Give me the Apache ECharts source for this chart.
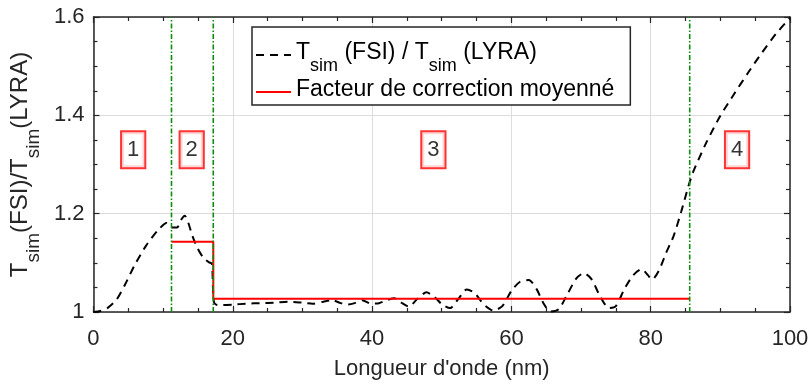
<!DOCTYPE html>
<html><head><meta charset="utf-8">
<script src="https://cdn.jsdelivr.net/npm/echarts@6/dist/echarts.min.js"></script>
<style>html,body{margin:0;padding:0;background:#fff}#c{width:812px;height:386px}</style>
</head><body><div id="c"></div>
<script>
// ---- data ----
const ratioX = [0, 1, 2, 3.3, 4.5, 5.9, 7.6, 9.3, 10.5, 11.3, 12.0, 12.6, 13.1, 13.6, 14.2, 15.0, 15.8, 16.6, 17.0, 17.15, 17.3, 17.6,
  18.5, 20, 22, 24, 26, 28, 30, 31.5, 33, 34.3, 35.5, 36.5, 37.5, 38.6, 39.8, 41, 42.3, 43.2, 44.2, 45.3, 46.5, 47.8, 49, 50, 51.2,
  52.4, 53.6, 54.7, 56, 57.4, 58.7, 60, 61.2, 62.5, 63.6, 64.6, 65.6, 66.8, 68, 69.3, 70.4, 71.5, 72.7, 74, 75, 76.2, 77.5, 78.7,
  79.6, 80.2, 81.2, 82.2, 83.3, 84.4, 85.4, 86.1, 88, 90, 92, 94, 96, 98, 100];
const ratioY = [1.0, 1.002, 1.008, 1.025, 1.055, 1.095, 1.136, 1.167, 1.181, 1.172, 1.172, 1.188, 1.196, 1.182, 1.155, 1.128, 1.11, 1.101, 1.098, 1.05, 1.02, 1.015,
  1.014, 1.015, 1.017, 1.018, 1.019, 1.021, 1.019, 1.017, 1.021, 1.024, 1.018, 1.015, 1.018, 1.024, 1.017, 1.018, 1.025, 1.028, 1.019, 1.011, 1.027, 1.04, 1.03, 1.016, 1.008,
  1.027, 1.046, 1.039, 1.016, 1.003, 1.012, 1.043, 1.061, 1.065, 1.047, 1.018, 1.001, 1.006, 1.035, 1.068, 1.079, 1.067, 1.033, 1.008, 1.012, 1.046, 1.075, 1.087,
  1.075, 1.066, 1.085, 1.12, 1.155, 1.205, 1.255, 1.285, 1.345, 1.399, 1.444, 1.487, 1.528, 1.566, 1.598];
const factorX = [11.2, 17.2, 17.2, 85.6];
const factorY = [1.143, 1.143, 1.027, 1.027];
const boundaryX = [11.2, 17.2, 85.6];
const regionX = [5.7, 14.1, 48.8, 92.4];
const regionY = [1.33, 1.33, 1.33, 1.33];
const regionNames = ['1', '2', '3', '4'];
const xTicks = [0, 20, 40, 60, 80, 100];
const yTicks = [1, 1.2, 1.4, 1.6];

// ---- chart ----
const FONT = "'Liberation Sans', Arial, sans-serif";
const AX = '#262626';
const chart = echarts.init(document.getElementById('c'), null, {renderer: 'canvas'});
const xMin = xTicks[0], xMax = xTicks[xTicks.length - 1], xInt = xTicks[1] - xTicks[0];
const yMin = yTicks[0], yMax = yTicks[yTicks.length - 1], yInt = +(yTicks[1] - yTicks[0]).toFixed(6);

function axisBase(extra) {
  return Object.assign({
    type: 'value',
    axisLine: {show: true, onZero: false, lineStyle: {color: AX, width: 1.5}},
    axisTick: {show: true, inside: true, length: 6, lineStyle: {color: AX, width: 1.2}},
    minorTick: {show: true, splitNumber: 4, length: 4, lineStyle: {color: AX, width: 1.2}},
  }, extra);
}
const richSub = {
  n: {fontSize: 24, fontFamily: FONT, color: AX, lineHeight: 28, verticalAlign: 'top'},
  s: {fontSize: 19, fontFamily: FONT, color: AX, lineHeight: 19, verticalAlign: 'top', padding: [16, 0, 0, 0]}
};
const legendRich = {
  n: {fontSize: 23, fontFamily: FONT, color: '#000', lineHeight: 28, verticalAlign: 'top'},
  s: {fontSize: 18, fontFamily: FONT, color: '#000', lineHeight: 18, verticalAlign: 'top', padding: [16, 0, 0, 0]}
};

const option = {
  animation: false,
  backgroundColor: '#fff',
  grid: {left: 92, right: 22, top: 17, bottom: 74},
  legend: {
    data: ['ratio', 'factor'],
    orient: 'vertical', left: 252, top: 27,
    padding: [14, 16, 4, 3], itemGap: 3, itemWidth: 35, itemHeight: 14,
    borderColor: AX, borderWidth: 1.5, backgroundColor: '#fff',
    itemStyle: {opacity: 0},
    formatter: n => n === 'ratio' ? '{n|T}{s|sim}{n| (FSI) / T}{s|sim}{n| (LYRA)}' : '{n|Facteur de correction moyenné}',
    textStyle: {fontFamily: FONT, fontSize: 23, color: '#000', rich: legendRich}
  },
  xAxis: [
    axisBase({min: xMin, max: xMax, interval: xInt, position: 'bottom',
      axisLabel: {fontSize: 22, color: AX, fontFamily: FONT, margin: 16},
      splitLine: {show: true, lineStyle: {color: '#dddddd', width: 1}},
      name: "Longueur d'onde (nm)", nameLocation: 'middle', nameGap: 46,
      nameTextStyle: {fontSize: 22, color: AX, fontFamily: FONT}}),
    axisBase({min: xMin, max: xMax, interval: xInt, position: 'top', axisLabel: {show: false}, splitLine: {show: false}})
  ],
  yAxis: [
    axisBase({min: yMin, max: yMax, interval: yInt, position: 'left',
      axisLabel: {fontSize: 22, color: AX, fontFamily: FONT, margin: 9},
      splitLine: {show: true, lineStyle: {color: '#dddddd', width: 1}},
      name: '{n|T}{s|sim}{n|(FSI)/T}{s|sim}{n|(LYRA)}', nameLocation: 'middle', nameRotate: 90, nameGap: 46,
      nameTextStyle: {fontSize: 24, color: AX, fontFamily: FONT, rich: richSub}}),
    axisBase({min: yMin, max: yMax, interval: yInt, position: 'right', axisLabel: {show: false}, splitLine: {show: false}})
  ],
  series: [
    {name: 'ratio', type: 'line', data: ratioX.map((x, i) => [x, ratioY[i]]), symbol: 'none', smooth: 0.25,
      lineStyle: {color: '#000', width: 2, type: [8, 6]}, itemStyle: {color: '#000'}, z: 3},
    {name: 'factor', type: 'line', data: factorX.map((x, i) => [x, factorY[i]]), symbol: 'none',
      lineStyle: {color: '#ff0000', width: 2}, itemStyle: {color: '#ff0000'}, z: 4},
    ...boundaryX.map(b => ({type: 'line', data: [[b, yMin], [b, yMax]], symbol: 'none', silent: true,
      lineStyle: {color: '#108a10', width: 1.6, type: [5, 2, 1.5, 2]}, z: 5})),
    {type: 'scatter', data: regionX.map((x, i) => ({value: [x, regionY[i]], name: regionNames[i]})),
      symbolSize: 1, itemStyle: {color: 'transparent'}, silent: true, z: 6,
      label: {show: true, position: 'inside', formatter: p => p.name, color: '#000', fontSize: 22, fontFamily: FONT,
        backgroundColor: '#fff', borderColor: '#ff0000', borderWidth: 2, padding: [7, 5, 6, 5]}}
  ]
};
chart.setOption(option);
</script>
</body></html>
